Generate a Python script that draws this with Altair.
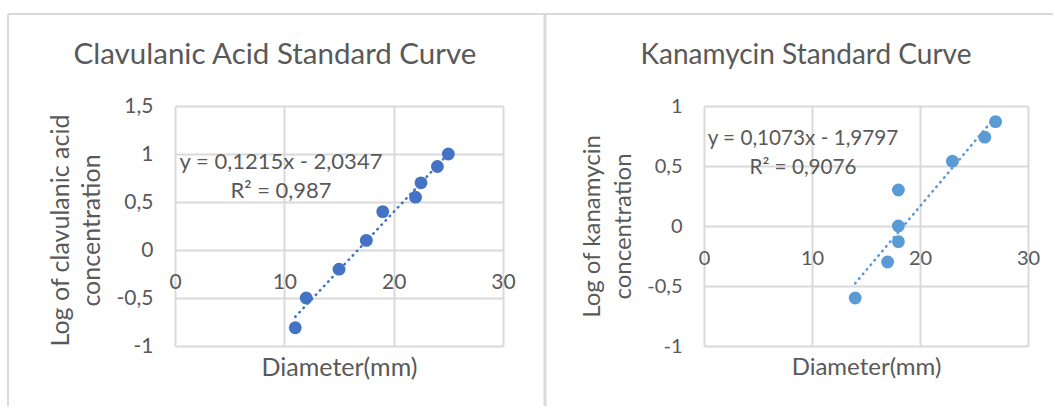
import altair as alt
import pandas as pd

# ---------------- data ----------------
clav_diameter = [11, 12, 15, 17.5, 19, 22, 22.5, 24, 25]
clav_log_conc = [-0.81, -0.50, -0.20, 0.10, 0.40, 0.55, 0.70, 0.87, 1.00]

kana_diameter = [14, 17, 18, 18, 18, 23, 26, 27]
kana_log_conc = [-0.60, -0.30, -0.13, 0.00, 0.30, 0.54, 0.74, 0.87]

x_ticks = [0, 10, 20, 30]
clav_y_ticks = [-1, -0.5, 0, 0.5, 1, 1.5]
kana_y_ticks = [-1, -0.5, 0, 0.5, 1]

clav_title = "Clavulanic Acid Standard Curve"
kana_title = "Kanamycin Standard Curve"
clav_ytitle = ["Log of clavulanic acid", "concentration"]
kana_ytitle = ["Log of kanamycin", "concentration"]
x_title = "Diameter(mm)"
clav_eq = "y = 0,1215x - 2,0347\nR² = 0,987"
kana_eq = "y = 0,1073x - 1,9797\nR² = 0,9076"

# ---------------- styling ----------------
FONT = "Lato"
TEXT = "#595959"
GRID = "#D9D9D9"
H = 240
LBL_EXPR = "replace(toString(datum.value), '.', ',')"


def frame_rule(x, x2, y, y2, w):
    return alt.Chart(alt.Data(values=[{}])).mark_rule(
        color=GRID, strokeWidth=w
    ).encode(x=alt.value(x), x2=alt.value(x2), y=alt.value(y), y2=alt.value(y2))


def text_at(txt, x, y, size, baseline="middle", line_height=None):
    kw = dict(text=txt, font=FONT, fontSize=size, color=TEXT,
              align="center", baseline=baseline)
    if line_height is not None:
        kw.update(lineBreak="\n", lineHeight=line_height)
    return alt.Chart(alt.Data(values=[{}])).mark_text(**kw).encode(
        x=alt.value(x), y=alt.value(y))


def panel(xs, ys, color, title, fs, title_x, ytitle, ytitle_x, ytitle_y,
          yticks, width, zero_px, xtitle_y, eq, eq_x, eq_y, frames):
    f_title, f_axis, f_lbl, f_eq = fs
    df = pd.DataFrame({"d": xs, "v": ys})
    base = alt.Chart(df)
    xaxis = alt.Axis(
        values=x_ticks, grid=True, gridColor=GRID, gridWidth=2,
        domain=False, ticks=False, tickSize=0, labelFlush=False,
        labelPadding=32, labelBaseline="middle", labelFontSize=f_lbl,
        labelFont=FONT, labelColor=TEXT, labelExpr=LBL_EXPR,
        offset=-(H - zero_px),
        title=x_title, titleFont=FONT, titleFontSize=f_axis, titleColor=TEXT,
        titleFontWeight="normal", titleX=width / 2, titleY=xtitle_y,
        titleBaseline="middle", titleAlign="center",
    )
    yaxis = alt.Axis(
        values=yticks, grid=True, gridColor=GRID, gridWidth=2,
        domain=False, ticks=False, tickSize=0, labelFlush=False,
        labelPadding=22, labelFontSize=f_lbl, labelFont=FONT,
        labelColor=TEXT, labelExpr=LBL_EXPR,
        title=ytitle, titleFont=FONT, titleFontSize=f_axis, titleColor=TEXT,
        titleFontWeight="normal", titleX=ytitle_x, titleY=ytitle_y,
        titleBaseline="middle", titleAlign="center", titleLineHeight=31,
    )
    xs_ = alt.Scale(domain=[0, 30], nice=False, zero=False)
    ys_ = alt.Scale(domain=[min(yticks), max(yticks)], nice=False, zero=False)

    points = base.mark_circle(size=165, color=color, opacity=1).encode(
        x=alt.X("d:Q", scale=xs_, axis=xaxis),
        y=alt.Y("v:Q", scale=ys_, axis=yaxis),
    )
    trend = base.transform_regression("d", "v").mark_line(
        color=color, strokeWidth=2.6, strokeDash=[0.5, 5.5], strokeCap="round"
    ).encode(x="d:Q", y="v:Q")
    eq_text = text_at(eq, eq_x, eq_y, f_eq, line_height=28.5)
    title_text = text_at(title, title_x, -42, f_title, baseline="alphabetic")

    layers = [frame_rule(*f) for f in frames] + [points, trend, eq_text, title_text]
    return alt.layer(*layers).properties(width=width, height=H)


left = panel(
    clav_diameter, clav_log_conc, "#4472C4", clav_title, (29.5, 25, 21, 22), 100,
    clav_ytitle, -115, 124, clav_y_ticks, 328, 144, 117,
    clav_eq, 106, 56,
    frames=[(-167, 370, -92, -92, 2), (-167, -167, -92, 300, 2),
            (370, 370, -92, 300, 3)],
)
right = panel(
    kana_diameter, kana_log_conc, "#5B9BD5", kana_title, (28, 24, 20, 20.7), 102,
    kana_ytitle, -112, 120, kana_y_ticks, 324, 120, 141,
    kana_eq, 99, 33,
    frames=[(-159, 349, -92, -92, 2)],
)

chart = alt.hconcat(left, right, spacing=201, bounds="flush").properties(
    padding={"left": 7, "top": 12, "right": 0, "bottom": 0},
    background="white",
).configure_view(stroke=None)

chart.save("out.html", embed_options={"renderer": "svg", "actions": False})
